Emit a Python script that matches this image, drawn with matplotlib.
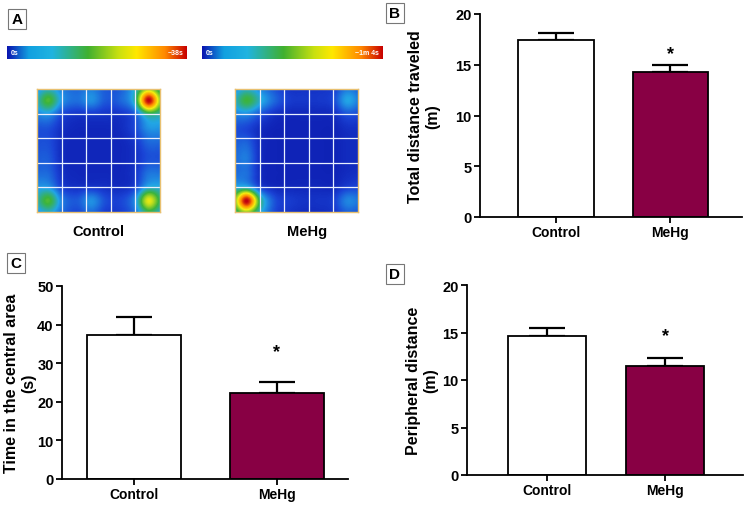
import numpy as np
import matplotlib
matplotlib.use("Agg")
import matplotlib.pyplot as plt
from matplotlib.colors import LinearSegmentedColormap

plt.rcParams['font.family'] = ['Liberation Sans', 'DejaVu Sans']
plt.rcParams['font.weight'] = 'bold'

groups = ["Control", "MeHg"]
bar_colors = ["white", "#880044"]

# panel B: total distance traveled (m)
dist_mean = [17.4, 14.3]
dist_sem = [0.7, 0.7]
# panel C: time in the central area (s)
center_mean = [37.2, 22.4]
center_sem = [4.8, 2.8]
# panel D: peripheral distance (m)
periph_mean = [14.6, 11.5]
periph_sem = [0.9, 0.8]

# occupancy heat maps (10x10 incl. one-cell border just outside the arena,
# rows top -> bottom, relative time)
heat_control = np.array([
    [0.22, 0.30, 0.22, 0.18, 0.22, 0.16, 0.16, 0.30, 0.50, 0.35],
    [0.30, 0.50, 0.26, 0.20, 0.26, 0.16, 0.18, 0.35, 1.00, 0.50],
    [0.22, 0.26, 0.12, 0.08, 0.09, 0.08, 0.08, 0.15, 0.40, 0.35],
    [0.14, 0.14, 0.07, 0.05, 0.05, 0.05, 0.06, 0.12, 0.26, 0.26],
    [0.14, 0.14, 0.06, 0.05, 0.05, 0.05, 0.05, 0.08, 0.18, 0.18],
    [0.16, 0.16, 0.06, 0.05, 0.05, 0.05, 0.05, 0.07, 0.14, 0.14],
    [0.18, 0.18, 0.07, 0.05, 0.05, 0.05, 0.05, 0.08, 0.20, 0.20],
    [0.26, 0.26, 0.10, 0.07, 0.08, 0.07, 0.06, 0.10, 0.30, 0.30],
    [0.32, 0.50, 0.22, 0.16, 0.26, 0.14, 0.12, 0.24, 0.66, 0.40],
    [0.22, 0.30, 0.18, 0.12, 0.18, 0.10, 0.10, 0.18, 0.40, 0.30],
])
heat_mehg = np.array([
    [0.22, 0.30, 0.22, 0.14, 0.08, 0.08, 0.08, 0.10, 0.20, 0.16],
    [0.30, 0.48, 0.32, 0.18, 0.10, 0.09, 0.09, 0.12, 0.30, 0.20],
    [0.22, 0.24, 0.14, 0.07, 0.05, 0.05, 0.05, 0.06, 0.14, 0.12],
    [0.14, 0.12, 0.06, 0.04, 0.04, 0.04, 0.04, 0.04, 0.07, 0.07],
    [0.16, 0.18, 0.06, 0.04, 0.04, 0.04, 0.04, 0.04, 0.06, 0.06],
    [0.18, 0.22, 0.06, 0.04, 0.04, 0.04, 0.04, 0.04, 0.06, 0.06],
    [0.18, 0.20, 0.06, 0.04, 0.04, 0.04, 0.04, 0.04, 0.06, 0.07],
    [0.28, 0.30, 0.10, 0.05, 0.05, 0.05, 0.05, 0.05, 0.10, 0.12],
    [0.45, 1.00, 0.40, 0.14, 0.10, 0.08, 0.08, 0.10, 0.24, 0.20],
    [0.35, 0.50, 0.30, 0.12, 0.08, 0.06, 0.06, 0.08, 0.16, 0.14],
])
heat_max_labels = ["~38s", "~1m 4s"]

cmap = LinearSegmentedColormap.from_list("track", [
    (0.0, "#0a14a8"), (0.12, "#1a44d6"), (0.30, "#22a6e6"),
    (0.48, "#3cb43c"), (0.68, "#f5ee10"), (0.85, "#ff8a00"), (1.0, "#c00010")])
bar_cmap = LinearSegmentedColormap.from_list("bar", [
    (0.0, "#0a14b0"), (0.12, "#12a0e0"), (0.25, "#20b4e0"),
    (0.45, "#40b030"), (0.62, "#c8e010"), (0.72, "#ffe800"),
    (0.88, "#ff8800"), (1.0, "#c80000")])

W, H = 748, 506
fig = plt.figure(figsize=(W / 100, H / 100), dpi=100)


def px_axes(x0, y0, x1, y1):
    return fig.add_axes([x0 / W, 1 - y1 / H, (x1 - x0) / W, (y1 - y0) / H])


def panel_letter(x, y, s):
    fig.text(x / W, 1 - y / H, s, fontsize=11, fontweight='bold', ha='center', va='center',
             bbox=dict(boxstyle='square,pad=0.2', fc='white', ec='#777777', lw=0.8))


# ---- panel A: heat maps ----
heat_boxes = [(37, 90, 160, 213), (235, 90, 358, 213)]
bar_boxes = [(7, 47, 187, 60), (202, 47, 382, 60)]
name_x = [98, 307]
pad = 0.08
for i, data in enumerate([heat_control, heat_mehg]):
    cax = px_axes(*bar_boxes[i])
    cax.imshow(np.linspace(0, 1, 256)[None, :], cmap=bar_cmap, aspect='auto')
    cax.set_axis_off()
    cax.text(0.02, 0.5, "0s", color='white', fontsize=5, fontweight='bold',
             transform=cax.transAxes, va='center')
    cax.text(0.98, 0.5, heat_max_labels[i], color='white', fontsize=5, fontweight='bold',
             transform=cax.transAxes, va='center', ha='right')

    hax = px_axes(*heat_boxes[i])
    hax.imshow(data, cmap=cmap, vmin=0, vmax=1, interpolation='catrom',
               interpolation_stage='data',
               extent=[-pad, 1 + pad, 1 + pad, -pad], aspect='auto')
    hax.set_xlim(0, 1)
    hax.set_ylim(1, 0)
    for g in np.arange(1, 5) / 5:
        hax.axvline(g, color='#e8f0ff', lw=0.9)
        hax.axhline(g, color='#e8f0ff', lw=0.9)
    hax.set_xticks([])
    hax.set_yticks([])
    for sp in hax.spines.values():
        sp.set_color('#e8c070')
        sp.set_linewidth(1.0)
    fig.text(name_x[i] / W, 1 - 232 / H, groups[i], fontsize=10.5, fontweight='bold',
             ha='center', va='center')

panel_letter(17, 20, "A")


# ---- bar panels ----
def bar_panel(box, means, sems, ymax, step, ylabel, xlim, star_off, label_x):
    ax = px_axes(*box)
    x = np.arange(len(means))
    ax.bar(x, means, width=0.66, color=bar_colors, edgecolor='black', linewidth=1.3, zorder=2)
    ax.errorbar(x, means, yerr=[np.zeros(len(sems)), sems], fmt='none', ecolor='black',
                elinewidth=1.6, capsize=13, capthick=1.6, zorder=1)
    ax.annotate("*", (x[1], means[1] + sems[1]), xytext=(0, star_off), textcoords='offset points',
                ha='center', va='center', fontsize=13, fontweight='bold')
    ax.set_xlim(*xlim)
    ax.set_ylim(0, ymax)
    ax.set_yticks(np.arange(0, ymax + 1, step))
    ax.set_xticks(x)
    ax.set_xticklabels(groups)
    for sp in ['top', 'right']:
        ax.spines[sp].set_visible(False)
    for sp in ['left', 'bottom']:
        ax.spines[sp].set_linewidth(1.3)
    ax.tick_params(width=1.3, length=4, labelsize=10.5, pad=2)
    ax.tick_params(axis='x', labelsize=10)
    for lab in ax.get_xticklabels() + ax.get_yticklabels():
        lab.set_fontweight('bold')
    ax.set_ylabel(ylabel, fontsize=11.5, fontweight='bold', linespacing=1.2)
    ax.yaxis.set_label_coords(label_x, 0.5)
    return ax


bar_panel((480, 15, 742, 218), dist_mean, dist_sem, 20, 5,
          "Total distance traveled\n(m)", (-0.667, 1.63), 8, -0.15)
bar_panel((62, 287, 348, 480), center_mean, center_sem, 50, 10,
          "Time in the central area\n(s)", (-0.503, 1.497), 22, -0.09)
bar_panel((467, 286, 743, 476), periph_mean, periph_sem, 20, 5,
          "Peripheral distance\n(m)", (-0.678, 1.66), 16, -0.105)

panel_letter(395, 14, "B")
panel_letter(16, 264, "C")
panel_letter(395, 275, "D")

fig.savefig("out.png", dpi=100)
